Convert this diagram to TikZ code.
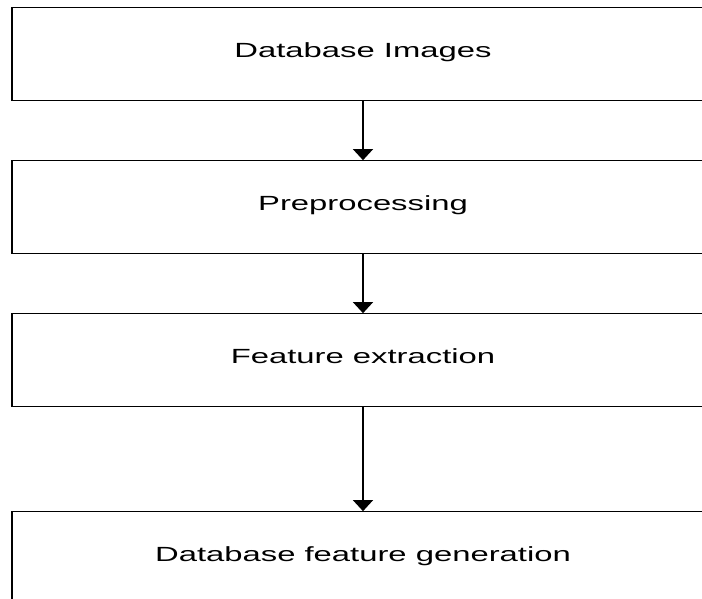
\documentclass[tikz,border=0pt]{standalone}
\usepackage{fontspec}
\setmainfont{Liberation Sans}[FakeStretch=1.6]
\usetikzlibrary{arrows.meta}

\tikzset{
  stagebox/.style={draw,line width=1.2pt,minimum width=702pt,minimum height=92.5pt,
    inner sep=0pt,text height=0.72em,text depth=0pt,
    font=\fontsize{20.5}{24}\selectfont},
  flowarrow/.style={line width=1.2pt,-{Triangle[length=11pt,width=20pt]}}
}

\begin{document}
\begin{tikzpicture}[x=1pt,y=-1pt]
\clip (0,0) rectangle (702,598);
\fill[white] (0,0) rectangle (702,598);

\node[stagebox] (images) at (363,54) {Database Images};
\node[stagebox] (prep) at (363,207) {Preprocessing};
\node[stagebox] (feat) at (363,360) {Feature extraction};
\node[stagebox] (gen) at (363,558) {Database feature generation};

\draw[flowarrow] (images)--(prep);
\draw[flowarrow] (prep)--(feat);
\draw[flowarrow] (feat)--(gen);

\end{tikzpicture}
\end{document}
